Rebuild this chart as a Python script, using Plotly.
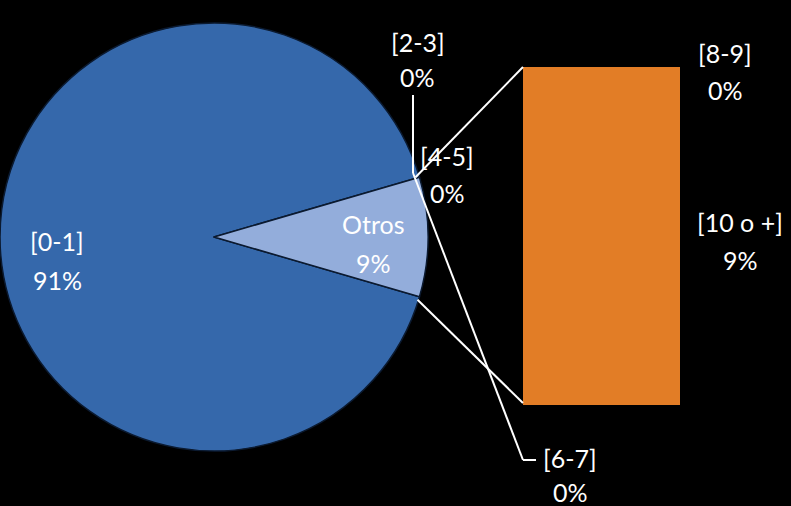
import math
import plotly.graph_objects as go

# ---- data ----
pie_labels = ["[0-1]", "Otros"]
pie_values = [91, 9]
bar_labels = ["[2-3]", "[4-5]", "[6-7]", "[8-9]", "[10 o +]"]
bar_values = [0, 0, 0, 0, 9]

W, H = 791, 506
def px(x): return x / W
def py(y): return 1 - y / H

FONT = "Lato, 'Open Sans', sans-serif"
FS = 25

# pie geometry (pixels)
cx, cy, R = 214, 237, 214
total = sum(pie_values)
half = 360 * pie_values[1] / total / 2  # half angle of Otros slice

fig = go.Figure()
fig.add_trace(go.Pie(
    labels=pie_labels, values=pie_values, sort=False,
    direction="clockwise", rotation=90 + half,
    marker=dict(colors=["#3568ab", "#93addb"], line=dict(color="#0b1a30", width=1.5)),
    textinfo="none", hoverinfo="label+percent", showlegend=False,
    domain=dict(x=[px(cx - R), px(cx + R)], y=[py(cy + R), py(cy - R)]),
))

# stacked bar of the "Otros" breakdown
bar_top_px, bar_bot_px = 67, 405
for lab, v in zip(bar_labels, bar_values):
    fig.add_trace(go.Bar(
        x=[0], y=[v], name=lab, width=1,
        marker=dict(color="#e27d26", line=dict(width=0)),
        showlegend=False, hoverinfo="name+y",
    ))

fig.update_layout(
    barmode="stack",
    width=W, height=H,
    margin=dict(l=0, r=0, t=0, b=0),
    paper_bgcolor="black", plot_bgcolor="black",
    xaxis=dict(domain=[px(523), px(680)], range=[-0.5, 0.5], visible=False, fixedrange=True),
    yaxis=dict(domain=[py(bar_bot_px), py(bar_top_px)], range=[0, sum(bar_values)],
               visible=False, fixedrange=True),
    font=dict(family=FONT, color="white", size=FS),
)

# edge points of the Otros slice
ex = cx + R * math.cos(math.radians(half)) - 4
ey_top = cy - R * math.sin(math.radians(half))
ey_bot = cy + R * math.sin(math.radians(half))

line = dict(color="white", width=2)
shapes = [
    # connectors pie -> bar
    dict(type="line", xref="paper", yref="paper", x0=px(ex), y0=py(ey_top), x1=px(523), y1=py(bar_top_px), line=line),
    dict(type="line", xref="paper", yref="paper", x0=px(ex + 2), y0=py(ey_bot + 3), x1=px(523), y1=py(bar_bot_px - 2), line=line),
    # leader [2-3]
    dict(type="line", xref="paper", yref="paper", x0=px(413), y0=py(95), x1=px(413), y1=py(173), line=line),
    # leader [6-7]
    dict(type="line", xref="paper", yref="paper", x0=px(413), y0=py(173), x1=px(523), y1=py(460), line=line),
    dict(type="line", xref="paper", yref="paper", x0=px(523), y0=py(460), x1=px(536), y1=py(460), line=line),
]
fig.update_layout(shapes=shapes)

def pct(v):
    return f"{round(100 * v / total)}%"

label_pos = {
    "[0-1]": (57, 241, 280),
    "Otros": (373, 224, 263),
    "[2-3]": (418, 42, 77),
    "[4-5]": (447, 156, 193),
    "[6-7]": (570, 458, 492),
    "[8-9]": (725, 53, 90),
    "[10 o +]": (740, 222, 260),
}
all_items = list(zip(pie_labels, pie_values)) + list(zip(bar_labels, bar_values))
anns = []
for lab, v in all_items:
    x, y1, y2 = label_pos[lab]
    anns.append(dict(x=px(x), y=py(y1), xref="paper", yref="paper", text=lab,
                     showarrow=False, xanchor="center", yanchor="middle"))
    anns.append(dict(x=px(x), y=py(y2), xref="paper", yref="paper", text=pct(v),
                     showarrow=False, xanchor="center", yanchor="middle"))
fig.update_layout(annotations=anns)

fig.write_html(
    "out.html",
    config={"displayModeBar": False},
    post_script="document.body.style.margin='0';document.body.style.background='black';",
)
